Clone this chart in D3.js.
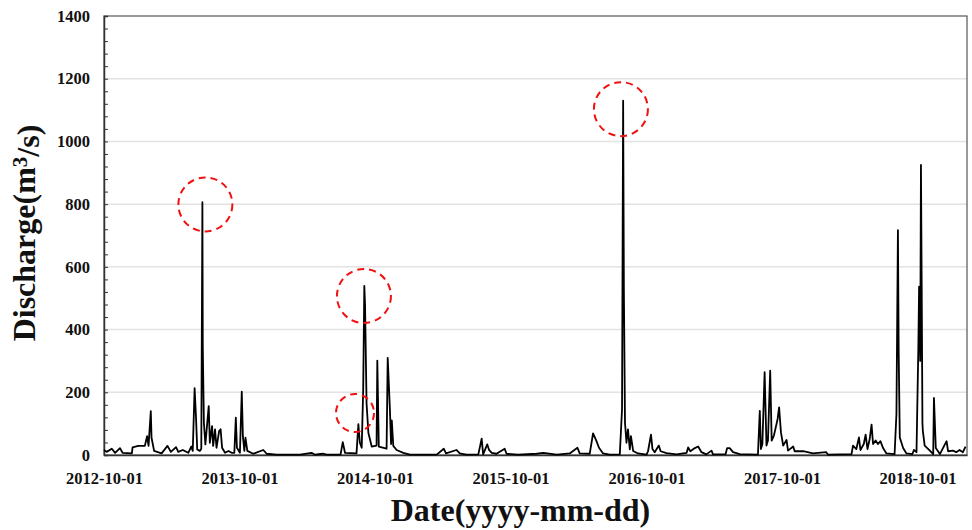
<!DOCTYPE html>
<html>
<head>
<meta charset="utf-8">
<script src="https://cdn.jsdelivr.net/npm/d3@7"></script>
<style>
  body { margin: 0; background: #fff; }
  .axis text { font-family: "Liberation Serif", "Times New Roman", serif; font-weight: bold; font-size: 16.5px; fill: #111; }
  .title { font-family: "Liberation Serif", "Times New Roman", serif; font-weight: bold; fill: #111; }
</style>
</head>
<body>
<script>
// days since 2012-10-01
var dayOffsets = [
  0, 7, 21, 30, 43, 50, 75, 77, 92, 110, 116, 120, 126, 128, 135, 155, 171, 180, 194, 200,
  212, 227, 235, 239, 244, 248, 251, 258, 262, 265, 266, 269, 273, 282, 285, 291, 294, 299, 303, 310,
  314, 318, 326, 335, 344, 351, 355, 358, 366, 371, 374, 378, 381, 386, 402, 429, 438, 465, 528, 559,
  568, 589, 600, 637, 643, 649, 680, 685, 689, 694, 698, 701, 703, 707, 712, 721, 734, 736, 740, 761,
  764, 770, 773, 775, 779, 788, 806, 824, 896, 915, 921, 949, 958, 976, 1008, 1017, 1021, 1032, 1037, 1044,
  1057, 1079, 1084, 1115, 1165, 1183, 1219, 1254, 1275, 1281, 1308, 1317, 1326, 1333, 1344, 1362, 1389, 1395, 1398, 1400,
  1403, 1407, 1411, 1416, 1419, 1425, 1438, 1461, 1465, 1473, 1477, 1483, 1494, 1499, 1515, 1542, 1569, 1573, 1579, 1591,
  1600, 1609, 1622, 1636, 1640, 1674, 1678, 1685, 1694, 1712, 1761, 1766, 1769, 1773, 1779, 1784, 1788, 1794, 1798, 1804,
  1809, 1814, 1818, 1823, 1829, 1838, 1842, 1856, 1860, 1883, 1909, 1945, 1950, 2013, 2017, 2026, 2033, 2037, 2046, 2051,
  2056, 2062, 2067, 2071, 2078, 2084, 2091, 2098, 2107, 2129, 2134, 2138, 2140, 2143, 2152, 2161, 2177, 2181, 2188, 2193,
  2195, 2198, 2200, 2202, 2204, 2205, 2210, 2224, 2233, 2235, 2240, 2251, 2269, 2273, 2286, 2295, 2304, 2313, 2320
];

// discharge (m3/s)
var discharge = [
  16, 10, 20, 7, 22, 7, 5, 24, 29, 29, 60, 29, 140, 55, 13, 5, 29, 10, 25, 10,
  16, 7, 27, 13, 213, 114, 18, 13, 20, 806, 345, 103, 34, 156, 39, 92, 29, 82, 23, 76,
  82, 23, 7, 13, 7, 7, 119, 23, 7, 202, 60, 13, 55, 13, 4, 16, 4, 1, 1, 7,
  1, 4, 1, 1, 41, 7, 5, 98, 39, 23, 207, 539, 478, 166, 70, 27, 30, 301, 27, 20,
  310, 143, 35, 110, 29, 16, 7, 1, 1, 20, 5, 16, 5, 1, 2, 52, 2, 34, 16, 7,
  4, 20, 4, 1, 4, 7, 1, 5, 23, 5, 4, 69, 45, 23, 5, 1, 2, 145, 1130, 526,
  103, 39, 82, 18, 60, 13, 5, 1, 12, 65, 19, 9, 30, 12, 6, 2, 7, 24, 12, 22,
  27, 9, 2, 14, 2, 3, 22, 22, 9, 3, 1, 141, 19, 35, 264, 30, 46, 269, 46, 62,
  88, 115, 152, 72, 30, 48, 14, 27, 12, 12, 5, 9, 1, 3, 30, 19, 56, 16, 35, 65,
  19, 51, 97, 35, 46, 35, 44, 22, 5, 3, 131, 717, 330, 56, 22, 5, 3, 16, 9, 345,
  537, 300, 925, 537, 102, 78, 30, 14, 3, 182, 22, 3, 44, 12, 14, 9, 16, 9, 27
];

var xTickDates = ["2012-10-01", "2013-10-01", "2014-10-01", "2015-10-01", "2016-10-01", "2017-10-01", "2018-10-01"];
var yTickValues = [0, 200, 400, 600, 800, 1000, 1200, 1400];

// highlighted events (dashed circles): day offset, discharge, radius in px
var circleDays = [273, 700, 676, 1392];
var circleValues = [799, 507, 134, 1103];
var circleRadius = [27, 27, 19, 27];

var startDate = new Date(2012, 9, 1);
var endDate = new Date(2019, 1, 11);

var width = 972, height = 530;
var margin = {top: 16, right: 5, bottom: 75, left: 104};
var plotW = width - margin.left - margin.right,
    plotH = height - margin.top - margin.bottom;

var parseDay = d3.timeParse("%Y-%m-%d");

var data = dayOffsets.map(function (d, i) {
    return {date: d3.timeDay.offset(startDate, d), value: discharge[i]};
});

var x = d3.scaleTime().domain([startDate, endDate]).range([0, plotW]);
var y = d3.scaleLinear().domain([0, 1400]).range([plotH, 0]);

var svg = d3.select("body").append("svg")
    .attr("width", width)
    .attr("height", height)
    .append("g")
    .attr("transform", "translate(" + margin.left + "," + margin.top + ")");

// grid lines
svg.append("g")
    .selectAll("line")
    .data(yTickValues.slice(1, -1))
    .enter().append("line")
    .attr("x1", 0).attr("x2", plotW)
    .attr("y1", d => y(d)).attr("y2", d => y(d))
    .attr("stroke", "#e2e2e2")
    .attr("stroke-width", 1.5);

// frame
svg.append("rect")
    .attr("width", plotW).attr("height", plotH)
    .attr("fill", "none")
    .attr("stroke", "#555")
    .attr("stroke-width", 1.2);

// Y axis, minor ticks every 40
var yAxis = d3.axisLeft(y)
    .tickValues(d3.range(0, 1401, 40))
    .tickSize(-4)
    .tickPadding(14)
    .tickFormat(d => yTickValues.indexOf(d) >= 0 ? d : "");

svg.append("g")
    .attr("class", "y axis")
    .call(yAxis)
    .call(g => g.select(".domain").attr("stroke", "#333").attr("stroke-width", 1.5))
    .call(g => g.selectAll(".tick line").attr("stroke", "#333"));

// X axis
var xAxis = d3.axisBottom(x)
    .tickValues(xTickDates.map(parseDay))
    .tickSize(0)
    .tickPadding(17)
    .tickFormat(d3.timeFormat("%Y-%m-%d"));

svg.append("g")
    .attr("class", "x axis")
    .attr("transform", "translate(0," + plotH + ")")
    .call(xAxis)
    .call(g => g.select(".domain").attr("stroke", "#333").attr("stroke-width", 1.5));

// the discharge line
var valueline = d3.line()
    .x(d => x(d.date))
    .y(d => y(d.value));

svg.append("path")
    .datum(data)
    .attr("fill", "none")
    .attr("stroke", "#000")
    .attr("stroke-width", 1.8)
    .attr("stroke-linejoin", "round")
    .attr("d", valueline);

// dashed red circles
svg.append("g")
    .selectAll("circle")
    .data(circleDays)
    .enter().append("circle")
    .attr("cx", d => x(d3.timeDay.offset(startDate, d)))
    .attr("cy", (d, i) => y(circleValues[i]))
    .attr("r", (d, i) => circleRadius[i])
    .attr("fill", "none")
    .attr("stroke", "#f01010")
    .attr("stroke-width", 2)
    .attr("stroke-dasharray", "7,5");

// axis titles
svg.append("text")
    .attr("class", "title")
    .attr("x", plotW / 2 - 15)
    .attr("y", plotH + 66)
    .attr("text-anchor", "middle")
    .style("font-size", "32px")
    .text("Date(yyyy-mm-dd)");

var yt = svg.append("text")
    .attr("class", "title")
    .attr("transform", "translate(" + (-69) + "," + (217) + ") rotate(-90)")
    .attr("text-anchor", "middle")
    .style("font-size", "32px");
yt.append("tspan").text("Discharge(m");
yt.append("tspan").attr("dy", "-0.4em").style("font-size", "21px").text("3");
yt.append("tspan").attr("dy", "0.4em").text("/s)");
</script>
</body>
</html>
